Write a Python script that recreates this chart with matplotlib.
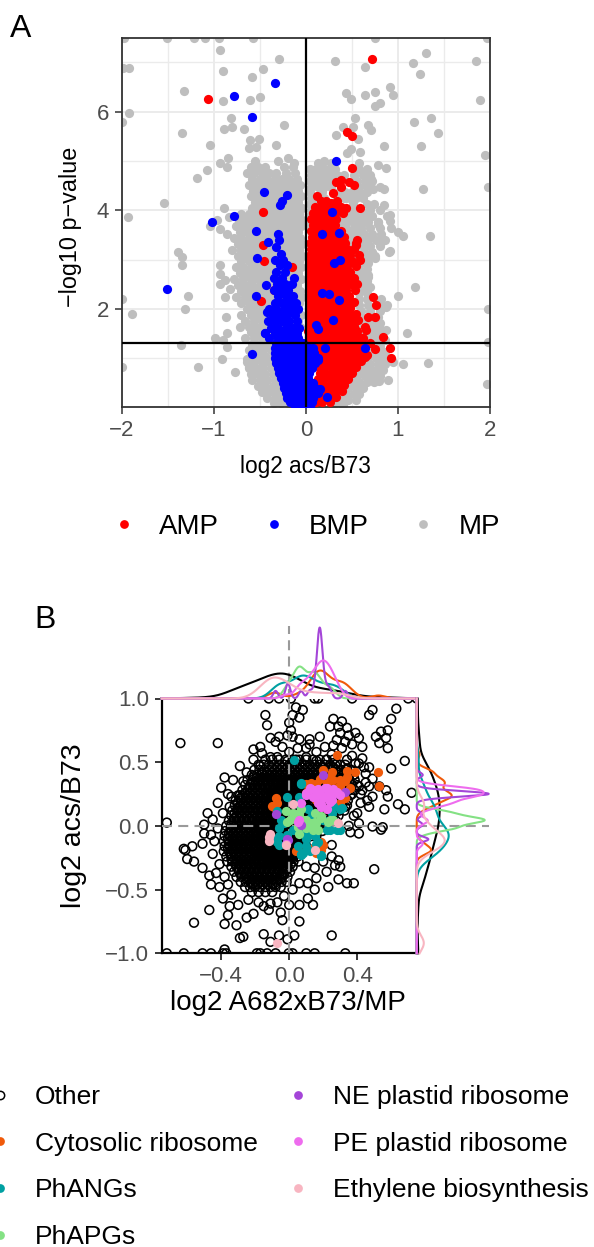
import numpy as np
import matplotlib
matplotlib.use("Agg")
import matplotlib.pyplot as plt
from matplotlib.lines import Line2D
from matplotlib.ticker import FuncFormatter

plt.rcParams['font.family'] = ['Liberation Sans', 'DejaVu Sans']

# ===================== Panel A data (log2 acs/B73 vs -log10 p) =====================
p_threshold = 0.05

# AMP (red) dense cloud, rows: y -> list of x
amp_rows = {
    4.18: [0.16, 0.22, 0.34],
    4.06: [0.10, 0.18, 0.24, 0.38],
    3.94: [0.08, 0.15, 0.22, 0.29, 0.40],
    3.82: [0.06, 0.12, 0.19, 0.26, 0.33],
    3.70: [0.08, 0.14, 0.20, 0.26, 0.32],
    3.58: [0.06, 0.12, 0.18, 0.25, 0.31, 0.38],
    3.46: [0.07, 0.13, 0.20, 0.27, 0.34, 0.41],
    3.34: [0.05, 0.11, 0.17, 0.23, 0.30, 0.36, 0.43, 0.55],
    3.22: [0.06, 0.12, 0.19, 0.25, 0.32, 0.38, 0.45, 0.52],
    3.10: [0.05, 0.10, 0.16, 0.22, 0.28, 0.35, 0.41, 0.48, 0.58],
    2.98: [0.04, 0.10, 0.16, 0.23, 0.29, 0.36, 0.42, 0.50],
    2.86: [0.05, 0.11, 0.17, 0.24, 0.31, 0.38, 0.45, 0.55],
    2.74: [0.04, 0.10, 0.16, 0.22, 0.28, 0.34, 0.41, 0.48],
    2.62: [0.05, 0.11, 0.18, 0.24, 0.30, 0.37, 0.44, 0.52],
    2.50: [0.04, 0.10, 0.16, 0.22, 0.29, 0.35, 0.42, 0.49, 0.56],
    2.38: [0.05, 0.11, 0.17, 0.24, 0.30, 0.37, 0.44],
    2.26: [0.04, 0.10, 0.16, 0.22, 0.28, 0.34, 0.40, 0.47],
    2.14: [0.05, 0.12, 0.18, 0.25, 0.31, 0.38, 0.45, 0.52],
    2.02: [0.04, 0.10, 0.16, 0.22, 0.29, 0.35, 0.41, 0.48],
    1.90: [0.03, 0.09, 0.15, 0.21, 0.27, 0.34, 0.40, 0.47, 0.54],
    1.78: [0.04, 0.10, 0.16, 0.23, 0.30, 0.36, 0.43, 0.50, 0.57],
    1.66: [0.03, 0.08, 0.17, 0.24, 0.31, 0.38, 0.45, 0.52],
    1.54: [0.02, 0.07, 0.15, 0.21, 0.28, 0.35, 0.42, 0.49, 0.56],
    1.42: [0.03, 0.09, 0.16, 0.22, 0.29, 0.36, 0.43, 0.50, 0.58],
    1.30: [0.04, 0.10, 0.17, 0.24, 0.31, 0.38, 0.45, 0.52, 0.60, 0.70],
    1.18: [0.16, 0.22, 0.28, 0.35, 0.41, 0.48, 0.55, 0.62, 0.75],
    1.06: [0.16, 0.23, 0.29, 0.36, 0.43, 0.50, 0.57, 0.66],
    0.94: [0.17, 0.23, 0.30, 0.37, 0.45, 0.52, 0.60],
    0.82: [0.14, 0.20, 0.27, 0.33, 0.40, 0.47, 0.55],
    0.70: [0.15, 0.21, 0.28, 0.35, 0.42, 0.50],
    0.58: [0.13, 0.19, 0.26, 0.32, 0.39, 0.46],
    0.46: [0.14, 0.20, 0.27, 0.34, 0.41],
    0.34: [0.12, 0.18, 0.25, 0.32, 0.39],
    0.22: [0.12, 0.19, 0.26, 0.33],
    0.10: [0.11, 0.18, 0.26],
}
amp_x_extra = [0.73, 0.76, 0.67, 0.75, 0.84, 0.91, 0.92, 0.56, 0.55, 0.59, 0.53, 0.64, 0.65, 0.62, 0.64,
               0.53, 0.44, 0.40, 0.40, 0.72, 0.45, 0.50, 0.50, 0.33, 0.38, 0.47, 0.52, 0.38, 0.29, 0.12,
               0.27, 0.33, 0.44, 0.59, 0.12, 0.25, 0.31, 0.37, -1.06, -0.46, -0.46, -0.45, -0.15, -0.35,
               -0.49, -0.32, -0.21, -0.06, -0.02, 0.02]
amp_y_extra = [2.24, 2.07, 1.84, 1.84, 1.42, 1.20, 1.01, 3.39, 3.29, 3.00, 2.38, 1.64, 1.57, 1.40, 1.03,
               0.96, 1.03, 0.80, 0.49, 7.07, 5.59, 5.50, 4.85, 4.58, 4.62, 4.58, 4.51, 4.47, 4.35, 4.29,
               4.14, 3.97, 4.05, 4.04, 3.71, 3.73, 4.07, 3.53, 6.25, 3.96, 3.29, 2.97, 2.85, 2.38,
               2.15, 1.15, 0.49, 0.10, 0.05, 0.08]

# BMP (blue) dense cloud, rows: y -> list of x
bmp_rows = {
    3.52: [-0.30], 3.40: [-0.29], 3.26: [-0.32], 3.12: [-0.27],
    3.00: [-0.33, -0.25], 2.88: [-0.28, -0.20], 2.75: [-0.32, -0.23],
    2.62: [-0.35, -0.26, -0.13], 2.50: [-0.31, -0.23, -0.15], 2.38: [-0.35, -0.27, -0.19],
    2.25: [-0.30, -0.22, -0.14], 2.12: [-0.34, -0.26, -0.18, -0.11],
    2.00: [-0.40, -0.32, -0.24, -0.16, -0.09], 1.88: [-0.36, -0.28, -0.20, -0.12],
    1.75: [-0.41, -0.33, -0.26, -0.18, -0.10], 1.62: [-0.38, -0.30, -0.22, -0.14, -0.07],
    1.50: [-0.44, -0.34, -0.26, -0.18, -0.10], 1.40: [-0.40, -0.30, -0.22, -0.14, -0.08],
    1.30: [-0.32, -0.26, -0.20, -0.14, -0.08, -0.03],
    1.20: [-0.34, -0.28, -0.22, -0.16, -0.10, -0.05, 0.03, 0.08],
    1.10: [-0.33, -0.27, -0.21, -0.15, -0.09, -0.04, 0.03, 0.09],
    1.00: [-0.33, -0.27, -0.21, -0.15, -0.09, -0.03, 0.03, 0.09, 0.13],
    0.90: [-0.32, -0.26, -0.20, -0.14, -0.08, -0.02, 0.04, 0.10],
    0.80: [-0.30, -0.24, -0.18, -0.12, -0.07, -0.02, 0.03, 0.07],
    0.70: [-0.29, -0.23, -0.17, -0.11, -0.06, -0.01, 0.03],
    0.60: [-0.27, -0.21, -0.15, -0.10, -0.05, 0.02],
    0.50: [-0.25, -0.19, -0.14, -0.09, -0.04, 0.03, 0.08],
    0.40: [-0.24, -0.18, -0.12, -0.07, -0.02, 0.04, 0.10],
    0.30: [-0.22, -0.16, -0.11, -0.06, -0.01, 0.03, 0.13],
    0.20: [-0.20, -0.14, -0.09, -0.04, 0.04, 0.08],
    0.10: [-0.17, -0.11, -0.06, -0.02, 0.03, 0.07],
    0.03: [-0.12, -0.07, -0.03, 0.02, 0.05],
}
bmp_x_extra = [-0.54, -0.41, -0.53, -0.43, -0.54, -0.42, -0.44, -0.58, -1.51, -1.02, -0.78, -0.45,
               -0.21, -0.26, -0.28, -0.33, -0.78, -0.58, 0.33, 0.28, 0.18, 0.36, 0.31, 0.37, 0.18,
               0.25, 0.36, 0.29, 0.11, 0.13, 0.21, 0.64, 0.09, 0.13, 0.05, 0.04, 0.15, 0.23, 0.05, 0.02]
bmp_y_extra = [3.58, 3.36, 3.03, 2.49, 2.26, 1.94, 1.50, 1.08, 2.40, 3.76, 3.88, 4.36,
               4.31, 4.19, 4.10, 6.59, 6.31, 5.89, 4.99, 3.96, 3.51, 3.54, 2.93, 3.00, 2.32,
               2.30, 2.17, 1.77, 1.67, 1.60, 1.21, 1.21, 1.09, 0.96, 0.82, 0.49, 0.38, 0.21, 0.28, 0.11]

# MP (grey) cloud, rows: y -> list of x (left and right of zero)
mp_left_rows = {
    5.00: [-0.55, -0.30],
    4.88: [-0.60, -0.52, -0.44, -0.24, -0.14],
    4.76: [-0.64, -0.56, -0.48, -0.40, -0.32, -0.22, -0.12],
    4.64: [-0.58, -0.50, -0.42, -0.34, -0.26, -0.18, -0.10],
    4.52: [-0.62, -0.54, -0.46, -0.38, -0.30, -0.22, -0.13, -0.06],
    4.40: [-0.57, -0.49, -0.41, -0.33, -0.25, -0.17, -0.09],
    4.28: [-0.60, -0.52, -0.44, -0.36, -0.28, -0.20, -0.12, -0.05],
    4.16: [-0.55, -0.47, -0.39, -0.31, -0.23, -0.15, -0.08],
    4.04: [-0.58, -0.50, -0.42, -0.34, -0.26, -0.18, -0.10, -0.04],
    3.92: [-0.70, -0.62, -0.54, -0.46, -0.38, -0.30, -0.22, -0.14, -0.07],
    3.80: [-0.73, -0.65, -0.57, -0.49, -0.41, -0.33, -0.25, -0.17, -0.09, -0.04],
    3.68: [-0.76, -0.68, -0.60, -0.52, -0.44, -0.36, -0.28, -0.20, -0.12, -0.05],
    3.56: [-0.72, -0.64, -0.56, -0.48, -0.40, -0.32, -0.24, -0.16, -0.08],
    3.44: [-0.78, -0.70, -0.62, -0.54, -0.46, -0.38, -0.30, -0.22, -0.14, -0.06],
    3.32: [-0.74, -0.66, -0.58, -0.50, -0.42, -0.34, -0.26, -0.18, -0.10, -0.04],
    3.20: [-0.80, -0.70, -0.62, -0.54, -0.46, -0.38, -0.30, -0.22, -0.14, -0.07],
    3.08: [-0.74, -0.66, -0.58, -0.50, -0.42, -0.34, -0.26, -0.18, -0.10, -0.04],
    2.96: [-0.70, -0.62, -0.54, -0.46, -0.38, -0.30, -0.22, -0.14, -0.07],
    2.84: [-0.76, -0.68, -0.60, -0.52, -0.44, -0.36, -0.28, -0.20, -0.12, -0.05],
    2.72: [-0.72, -0.64, -0.56, -0.48, -0.40, -0.32, -0.24, -0.16, -0.08],
    2.60: [-0.78, -0.68, -0.60, -0.52, -0.44, -0.36, -0.28, -0.20, -0.12, -0.05],
    2.48: [-0.74, -0.66, -0.58, -0.50, -0.42, -0.34, -0.26, -0.18, -0.10],
    2.36: [-0.70, -0.62, -0.54, -0.46, -0.38, -0.30, -0.22, -0.14, -0.06],
    2.24: [-0.76, -0.66, -0.58, -0.50, -0.42, -0.34, -0.26, -0.18, -0.10, -0.04],
    2.12: [-0.70, -0.62, -0.54, -0.46, -0.38, -0.30, -0.22, -0.14, -0.07],
    2.00: [-0.64, -0.56, -0.48, -0.40, -0.32, -0.24, -0.16, -0.08],
    1.88: [-0.70, -0.60, -0.52, -0.44, -0.36, -0.28, -0.20, -0.12, -0.05],
    1.76: [-0.66, -0.56, -0.48, -0.40, -0.32, -0.24, -0.16, -0.08],
    1.64: [-0.72, -0.62, -0.54, -0.46, -0.38, -0.30, -0.22, -0.14, -0.06],
    1.52: [-0.60, -0.52, -0.44, -0.36, -0.28, -0.20, -0.12],
    1.40: [-0.66, -0.56, -0.48, -0.40, -0.32, -0.24, -0.16, -0.08],
    1.28: [-0.58, -0.50, -0.42, -0.34, -0.26, -0.18, -0.10],
    1.16: [-0.62, -0.54, -0.46, -0.38, -0.30, -0.22, -0.14],
    1.04: [-0.60, -0.52, -0.44, -0.36, -0.28, -0.20],
    0.92: [-0.64, -0.56, -0.48, -0.40, -0.32, -0.24],
    0.80: [-0.62, -0.54, -0.46, -0.38, -0.30, -0.22],
    0.68: [-0.60, -0.52, -0.44, -0.36, -0.28, -0.20],
    0.56: [-0.58, -0.50, -0.42, -0.34, -0.26, -0.20],
    0.44: [-0.52, -0.44, -0.36, -0.28, -0.20],
    0.32: [-0.48, -0.40, -0.32, -0.24, -0.17],
    0.20: [-0.42, -0.34, -0.26, -0.19],
    0.08: [-0.35, -0.27, -0.19],
}
mp_right_rows = {
    4.96: [0.13, 0.27],
    4.84: [0.04, 0.11, 0.18, 0.25, 0.32, 0.58, 0.66],
    4.72: [0.06, 0.13, 0.20, 0.27, 0.34, 0.41, 0.52, 0.62, 0.70],
    4.60: [0.04, 0.11, 0.18, 0.25, 0.56, 0.64, 0.72],
    4.48: [0.06, 0.13, 0.20, 0.27, 0.58, 0.66, 0.80],
    4.36: [0.04, 0.18, 0.36, 0.43, 0.50, 0.58, 0.66],
    4.24: [0.06, 0.20, 0.34, 0.41, 0.48, 0.55, 0.62],
    4.12: [0.04, 0.11, 0.18, 0.34, 0.51, 0.66, 0.74],
    4.00: [0.06, 0.13, 0.20, 0.27, 0.38, 0.50, 0.70, 0.80],
    3.88: [0.04, 0.11, 0.18, 0.40, 0.47, 0.54, 0.62, 0.72, 0.88],
    3.76: [0.05, 0.38, 0.45, 0.52, 0.60, 0.68, 0.78],
    3.64: [0.04, 0.44, 0.52, 0.60, 0.70, 0.80, 0.92],
    3.52: [0.47, 0.55, 0.63, 0.72, 0.82],
    3.40: [0.49, 0.60, 0.68, 0.76, 0.86],
    3.28: [0.50, 0.62, 0.70, 0.80],
    3.16: [0.55, 0.63, 0.72, 0.90],
    3.04: [0.57, 0.66, 0.75],
    2.92: [0.60, 0.68],
    2.80: [0.58, 0.66],
    2.68: [0.54, 0.62, 0.68],
    2.56: [0.58, 0.66],
    2.44: [0.54, 0.62, 0.70],
    2.32: [0.58, 0.66],
    2.20: [0.58, 0.66, 0.82],
    2.08: [0.58, 0.68, 0.82, 0.88],
    1.96: [0.60, 0.70, 0.80],
    1.84: [0.60, 0.78],
    1.72: [0.62, 0.70, 0.80],
    1.60: [0.60, 0.72, 0.80],
    1.48: [0.66, 0.74, 0.82],
    1.36: [0.68, 0.76, 0.86],
    1.24: [0.66, 0.72, 0.80],
    1.12: [0.70, 0.78, 0.86],
    1.00: [0.68, 0.76, 0.84],
    0.88: [0.62, 0.70, 0.78, 0.86],
    0.76: [0.60, 0.68, 0.76, 0.84],
    0.64: [0.56, 0.64, 0.72, 0.80],
    0.52: [0.50, 0.58, 0.66, 0.74],
    0.40: [0.46, 0.54, 0.62],
    0.28: [0.44, 0.52, 0.58],
    0.16: [0.38, 0.46, 0.54],
    0.05: [0.30, 0.40],
}
mp_x_extra = [-1.98, -1.51, -1.21, -1.09, -0.94, -0.57, -0.93, -0.29, -1.99, -1.92, -0.90, -0.46, -0.59,
              -1.32, -0.90, -0.61, -0.50, -1.92, -2.00, -0.81, -0.89, -0.80, -0.67, -0.24, -1.35, -1.04,
              -0.61, -0.51, -0.62, -0.54, -0.32, -0.85, -0.93, -0.86, -1.07, -1.18, -0.19, -0.13, -1.54,
              -1.93, -0.97, -0.89, -0.84, -0.64, -0.71,
              0.75, 1.97, 0.32, 0.64, 1.30, 1.16, 1.24, 1.85, 1.89, 0.44, 0.49, 0.64, 0.75, 0.91, 0.95,
              0.75, 0.81, 0.53, 0.40, 0.51, 0.67, 0.71, 0.33, 0.57, 0.85, 0.45, 0.49, 0.59, 1.18, 1.36,
              1.43, 1.25, 1.95, 0.20, 0.19, 0.29, 0.58, 0.78, 0.87, 0.71, 0.65, 0.73, 0.85, 1.27, 1.98,
              0.56, 0.64, 0.44, 0.20, 0.24, 0.16, 0.85, 0.91, 0.78, 0.67, 0.53, 0.05, 0.13,
              -1.04, -0.93, -0.86, -1.39, -1.35, -1.34, -0.93, -0.93, -0.93, -0.88, -0.82, -0.88, -2.00,
              -1.89, -1.28, -1.31, -0.87, -0.86, -0.99, -0.90, -1.36, -0.86, -0.91, -1.17, -2.00, -0.77,
              -0.62, -0.64, -0.55,
              0.65, 0.78, 0.91, 1.00, 1.06, 1.35, 0.82, 0.91, 0.75, 0.67, 1.00, 1.19, 0.87, 1.98, 0.76,
              0.87, 1.10, 0.84, 0.95, 1.05, 1.33, 0.79, 0.89, 1.97, 1.98, 0.58, 0.44, 0.42, 0.35, 0.60,
              0.67, 0.71]
mp_y_extra = [7.50, 7.50, 7.50, 7.50, 7.50, 7.50, 7.25, 7.07, 6.88, 6.88, 6.82, 6.87, 6.70,
              6.41, 6.21, 6.23, 6.29, 5.97, 5.79, 5.88, 5.64, 5.69, 5.65, 5.72, 5.57, 5.33,
              5.42, 5.44, 5.26, 5.28, 5.33, 5.05, 4.95, 4.87, 4.82, 4.66, 5.05, 4.95, 4.14,
              3.87, 3.80, 4.04, 3.87, 3.84, 3.78,
              7.50, 7.50, 7.03, 6.91, 7.18, 6.99, 6.76, 7.03, 6.24, 6.38, 6.25, 6.34, 6.39, 6.51, 6.34,
              6.12, 6.17, 5.87, 5.69, 5.69, 5.72, 5.62, 5.53, 5.45, 5.30, 5.17, 5.25, 5.18, 5.79, 5.87,
              5.57, 5.30, 5.13, 4.99, 4.86, 4.88, 4.95, 4.91, 4.86, 4.64, 4.58, 4.43, 4.44, 4.44, 4.47,
              4.31, 4.34, 4.24, 4.64, 4.51, 4.04, 4.10, 3.90, 3.77, 3.97, 3.80, 3.77, 3.90,
              3.69, 3.62, 3.52, 3.15, 3.05, 2.88, 2.88, 2.71, 2.51, 2.58, 2.41, 2.23, 2.19,
              1.89, 2.27, 2.00, 1.84, 1.51, 1.40, 1.36, 1.26, 1.23, 0.99, 0.82, 0.82, 0.72,
              0.82, 0.99, 1.13,
              3.76, 3.73, 3.79, 3.56, 3.47, 3.47, 3.36, 3.17, 3.08, 2.65, 2.27, 2.44, 2.04, 2.00, 1.67,
              1.57, 1.51, 1.09, 0.92, 0.89, 0.90, 0.54, 0.55, 0.47, 1.33, 0.49, 0.28, 0.21, 0.11, 0.69,
              0.82, 1.23]

# ===================== Panel B data (log2 A682xB73/MP vs log2 acs/B73) =====================
# "Other": dense cloud rows (y -> x list), interleaved rows, dense core rows, and scattered points
other_rows = {
    0.52: [-0.14, -0.10, -0.06, -0.02, 0.02, 0.06, 0.10, 0.14, 0.18, 0.22, 0.26],
    0.48: [-0.18, -0.15, -0.12, -0.09, -0.06, -0.03, 0.00, 0.03, 0.06, 0.09, 0.12, 0.15, 0.18, 0.21,
           0.24, 0.27, 0.30, 0.33],
    0.44: [-0.205, -0.175, -0.145, -0.115, -0.085, -0.055, -0.025, 0.005, 0.035, 0.065, 0.095, 0.125,
           0.155, 0.185, 0.215, 0.245, 0.275, 0.305, 0.335, 0.365],
    0.40: [-0.22, -0.19, -0.16, -0.13, -0.10, -0.07, -0.04, -0.01, 0.02, 0.05, 0.08, 0.11, 0.14, 0.17,
           0.20, 0.23, 0.26, 0.29, 0.32, 0.35, 0.38],
    0.36: [-0.245, -0.215, -0.185, -0.155, -0.125, -0.095, -0.065, -0.035, -0.005, 0.025, 0.055, 0.085,
           0.115, 0.145, 0.175, 0.205, 0.235, 0.265, 0.295, 0.325, 0.355, 0.385],
    0.32: [-0.26, -0.23, -0.20, -0.17, -0.14, -0.11, -0.08, -0.05, -0.02, 0.01, 0.04, 0.07, 0.10, 0.13,
           0.16, 0.19, 0.22, 0.25, 0.28, 0.31, 0.34, 0.37, 0.40],
    0.28: [-0.275, -0.245, -0.215, -0.185, -0.155, -0.125, -0.095, -0.065, -0.035, -0.005, 0.025, 0.055,
           0.085, 0.115, 0.145, 0.175, 0.205, 0.235, 0.265, 0.295, 0.325, 0.355, 0.385],
    0.24: [-0.30, -0.27, -0.24, -0.21, -0.18, -0.15, -0.12, -0.09, -0.06, -0.03, 0.00, 0.03, 0.06, 0.09,
           0.12, 0.15, 0.18, 0.21, 0.24, 0.27, 0.30, 0.33, 0.36],
    0.20: [-0.315, -0.285, -0.255, -0.225, -0.195, -0.165, -0.135, -0.105, -0.075, -0.045, -0.015, 0.015,
           0.045, 0.075, 0.105, 0.135, 0.165, 0.195, 0.225, 0.255, 0.285, 0.315, 0.345],
    0.16: [-0.32, -0.29, -0.26, -0.23, -0.20, -0.17, -0.14, -0.11, -0.08, -0.05, -0.02, 0.01, 0.04, 0.07,
           0.10, 0.13, 0.16, 0.19, 0.22, 0.25, 0.28, 0.31, 0.34],
    0.12: [-0.335, -0.305, -0.275, -0.245, -0.215, -0.185, -0.155, -0.125, -0.095, -0.065, -0.035, -0.005,
           0.025, 0.055, 0.085, 0.115, 0.145, 0.175, 0.205, 0.235, 0.265, 0.295, 0.325],
    0.08: [-0.34, -0.31, -0.28, -0.25, -0.22, -0.19, -0.16, -0.13, -0.10, -0.07, -0.04, -0.01, 0.02, 0.05,
           0.08, 0.11, 0.14, 0.17, 0.20, 0.23, 0.26, 0.29],
    0.04: [-0.355, -0.325, -0.295, -0.265, -0.235, -0.205, -0.175, -0.145, -0.115, -0.085, -0.055, -0.025,
           0.005, 0.035, 0.065, 0.095, 0.125, 0.155, 0.185, 0.215, 0.245, 0.275],
    0.00: [-0.37, -0.34, -0.31, -0.28, -0.25, -0.22, -0.19, -0.16, -0.13, -0.10, -0.07, -0.04, -0.01, 0.02,
           0.05, 0.08, 0.11, 0.14, 0.17, 0.20, 0.23],
    -0.04: [-0.375, -0.345, -0.315, -0.285, -0.255, -0.225, -0.195, -0.165, -0.135, -0.105, -0.075, -0.045,
            -0.015, 0.015, 0.045, 0.075, 0.105, 0.135, 0.165, 0.195],
    -0.08: [-0.38, -0.35, -0.32, -0.29, -0.26, -0.23, -0.20, -0.17, -0.14, -0.11, -0.08, -0.05, -0.02, 0.01,
            0.04, 0.07, 0.10, 0.13, 0.16],
    -0.12: [-0.385, -0.355, -0.325, -0.295, -0.265, -0.235, -0.205, -0.175, -0.145, -0.115, -0.085, -0.055,
            -0.025, 0.005, 0.035, 0.065, 0.095, 0.125],
    -0.16: [-0.38, -0.35, -0.32, -0.29, -0.26, -0.23, -0.20, -0.17, -0.14, -0.11, -0.08, -0.05, -0.02, 0.01,
            0.04, 0.07, 0.10],
    -0.20: [-0.385, -0.355, -0.325, -0.295, -0.265, -0.235, -0.205, -0.175, -0.145, -0.115, -0.085, -0.055,
            -0.025, 0.005, 0.035, 0.065],
    -0.24: [-0.37, -0.34, -0.31, -0.28, -0.25, -0.22, -0.19, -0.16, -0.13, -0.10, -0.07, -0.04, -0.01, 0.02,
            0.05],
    -0.28: [-0.365, -0.335, -0.305, -0.275, -0.245, -0.215, -0.185, -0.155, -0.125, -0.095, -0.065, -0.035,
            -0.005, 0.025, 0.055],
    -0.32: [-0.34, -0.31, -0.28, -0.25, -0.22, -0.19, -0.16, -0.13, -0.10, -0.07, -0.04, -0.01, 0.02],
    -0.36: [-0.325, -0.295, -0.265, -0.235, -0.205, -0.175, -0.145, -0.115, -0.085, -0.055, -0.025, 0.005],
    -0.40: [-0.31, -0.28, -0.25, -0.22, -0.19, -0.16, -0.13, -0.10, -0.07, -0.04, -0.01],
    -0.44: [-0.285, -0.255, -0.225, -0.195, -0.165, -0.135, -0.105, -0.075, -0.045, -0.015],
    -0.48: [-0.26, -0.23, -0.20, -0.17, -0.14, -0.11, -0.08, -0.05],
    -0.52: [-0.22, -0.18, -0.14, -0.10],
}
other_rows_mid = {
    0.46: [-0.10, -0.07, -0.04, -0.01, 0.02, 0.05, 0.08, 0.11, 0.14, 0.17, 0.20, 0.23, 0.26],
    0.42: [-0.16, -0.13, -0.10, -0.07, -0.04, -0.01, 0.02, 0.05, 0.08, 0.11, 0.14, 0.17, 0.20, 0.23, 0.26,
           0.29, 0.32],
    0.38: [-0.19, -0.16, -0.13, -0.10, -0.07, -0.04, -0.01, 0.02, 0.05, 0.08, 0.11, 0.14, 0.17, 0.20, 0.23,
           0.26, 0.29, 0.32, 0.35],
    0.34: [-0.215, -0.185, -0.155, -0.125, -0.095, -0.065, -0.035, -0.005, 0.025, 0.055, 0.085, 0.115,
           0.145, 0.175, 0.205, 0.235, 0.265, 0.295, 0.325, 0.355],
    0.30: [-0.235, -0.205, -0.175, -0.145, -0.115, -0.085, -0.055, -0.025, 0.005, 0.035, 0.065, 0.095,
           0.125, 0.155, 0.185, 0.215, 0.245, 0.275, 0.305, 0.335],
    0.26: [-0.26, -0.23, -0.20, -0.17, -0.14, -0.11, -0.08, -0.05, -0.02, 0.01, 0.04, 0.07, 0.10, 0.13,
           0.16, 0.19, 0.22, 0.25, 0.28, 0.31],
    0.22: [-0.285, -0.255, -0.225, -0.195, -0.165, -0.135, -0.105, -0.075, -0.045, -0.015, 0.015, 0.045,
           0.075, 0.105, 0.135, 0.165, 0.195, 0.225, 0.255, 0.285],
    0.18: [-0.30, -0.27, -0.24, -0.21, -0.18, -0.15, -0.12, -0.09, -0.06, -0.03, 0.00, 0.03, 0.06, 0.09,
           0.12, 0.15, 0.18, 0.21, 0.24, 0.27],
    0.14: [-0.305, -0.275, -0.245, -0.215, -0.185, -0.155, -0.125, -0.095, -0.065, -0.035, -0.005, 0.025,
           0.055, 0.085, 0.115, 0.145, 0.175, 0.205, 0.235, 0.265],
    0.10: [-0.32, -0.29, -0.26, -0.23, -0.20, -0.17, -0.14, -0.11, -0.08, -0.05, -0.02, 0.01, 0.04, 0.07,
           0.10, 0.13, 0.16, 0.19, 0.22, 0.25],
    0.06: [-0.325, -0.295, -0.265, -0.235, -0.205, -0.175, -0.145, -0.115, -0.085, -0.055, -0.025, 0.005,
           0.035, 0.065, 0.095, 0.125, 0.155, 0.185, 0.215],
    0.02: [-0.34, -0.31, -0.28, -0.25, -0.22, -0.19, -0.16, -0.13, -0.10, -0.07, -0.04, -0.01, 0.02, 0.05,
           0.08, 0.11, 0.14, 0.17, 0.20],
    -0.02: [-0.345, -0.315, -0.285, -0.255, -0.225, -0.195, -0.165, -0.135, -0.105, -0.075, -0.045, -0.015,
            0.015, 0.045, 0.075, 0.105, 0.135, 0.165],
    -0.06: [-0.355, -0.325, -0.295, -0.265, -0.235, -0.205, -0.175, -0.145, -0.115, -0.085, -0.055, -0.025,
            0.005, 0.035, 0.065, 0.095, 0.125],
    -0.10: [-0.36, -0.33, -0.30, -0.27, -0.24, -0.21, -0.18, -0.15, -0.12, -0.09, -0.06, -0.03, 0.00, 0.03,
            0.06, 0.09],
    -0.14: [-0.355, -0.325, -0.295, -0.265, -0.235, -0.205, -0.175, -0.145, -0.115, -0.085, -0.055, -0.025,
            0.005, 0.035, 0.065],
    -0.18: [-0.36, -0.33, -0.30, -0.27, -0.24, -0.21, -0.18, -0.15, -0.12, -0.09, -0.06, -0.03, 0.00, 0.03,
            0.05],
    -0.22: [-0.345, -0.315, -0.285, -0.255, -0.225, -0.195, -0.165, -0.135, -0.105, -0.075, -0.045, -0.015,
            0.015, 0.04],
    -0.26: [-0.34, -0.31, -0.28, -0.25, -0.22, -0.19, -0.16, -0.13, -0.10, -0.07, -0.04, -0.01, 0.02],
    -0.30: [-0.315, -0.285, -0.255, -0.225, -0.195, -0.165, -0.135, -0.105, -0.075, -0.045, -0.015, 0.01],
    -0.34: [-0.30, -0.27, -0.24, -0.21, -0.18, -0.15, -0.12, -0.09, -0.06, -0.03, -0.01],
    -0.38: [-0.285, -0.255, -0.225, -0.195, -0.165, -0.135, -0.105, -0.075, -0.045, -0.03],
    -0.42: [-0.25, -0.22, -0.19, -0.16, -0.13, -0.10, -0.07, -0.05],
    -0.46: [-0.22, -0.19, -0.16, -0.13, -0.10, -0.08],
}
other_rows_core = {
    0.31: [-0.11, -0.08, -0.05, -0.02, 0.01, 0.04, 0.07, 0.10, 0.13],
    0.25: [-0.13, -0.10, -0.07, -0.04, -0.01, 0.02, 0.05, 0.08, 0.11],
    0.19: [-0.15, -0.12, -0.09, -0.06, -0.03, 0.00, 0.03, 0.06, 0.09],
    0.13: [-0.16, -0.13, -0.10, -0.07, -0.04, -0.01, 0.02, 0.05, 0.08],
    0.07: [-0.17, -0.14, -0.11, -0.08, -0.05, -0.02, 0.01, 0.04, 0.07],
    0.01: [-0.18, -0.15, -0.12, -0.09, -0.06, -0.03, 0.00, 0.03, 0.06],
    -0.05: [-0.19, -0.16, -0.13, -0.10, -0.07, -0.04, -0.01, 0.02, 0.05],
    -0.11: [-0.19, -0.16, -0.13, -0.10, -0.07, -0.04, -0.01, 0.02],
    -0.17: [-0.19, -0.16, -0.13, -0.10, -0.07, -0.04, -0.01],
    -0.23: [-0.18, -0.15, -0.12, -0.09, -0.06, -0.03],
    -0.29: [-0.16, -0.13, -0.10, -0.07, -0.04],
}
other_rows_core2 = {
    0.28: [-0.10, -0.07, -0.04, -0.01, 0.02, 0.05, 0.08, 0.11],
    0.22: [-0.11, -0.08, -0.05, -0.02, 0.01, 0.04, 0.07, 0.10],
    0.16: [-0.12, -0.09, -0.06, -0.03, 0.00, 0.03, 0.06, 0.09],
    0.10: [-0.13, -0.10, -0.07, -0.04, -0.01, 0.02, 0.05, 0.08],
    0.04: [-0.13, -0.10, -0.07, -0.04, -0.01, 0.02, 0.05, 0.08],
    -0.02: [-0.14, -0.11, -0.08, -0.05, -0.02, 0.01, 0.04, 0.07],
    -0.08: [-0.14, -0.11, -0.08, -0.05, -0.02, 0.01, 0.04],
    -0.14: [-0.14, -0.11, -0.08, -0.05, -0.02, 0.01, 0.04],
    -0.20: [-0.13, -0.10, -0.07, -0.04, -0.01, 0.02],
    -0.26: [-0.12, -0.09, -0.06, -0.03, 0.00],
}
other_rows_core3 = {
    0.20: [-0.06, -0.03, 0.00, 0.03, 0.06],
    0.17: [-0.05, -0.02, 0.01, 0.04],
    0.14: [-0.07, -0.04, -0.01, 0.02, 0.05],
    0.11: [-0.06, -0.03, 0.00, 0.03],
    0.08: [-0.08, -0.05, -0.02, 0.01, 0.04],
    0.05: [-0.065, -0.035, -0.005, 0.025],
    0.03: [-0.08, -0.05, -0.02, 0.01, 0.04],
    -0.01: [-0.065, -0.035, -0.005, 0.025],
    -0.03: [-0.08, -0.05, -0.02, 0.01, 0.04],
    -0.07: [-0.06, -0.03, 0.00],
    -0.09: [-0.08, -0.05, -0.02, 0.01],
    -0.15: [-0.07, -0.04, -0.01, 0.02],
}
other_x_extra = [-0.24, -0.12, -0.06, 0.01, 0.15, 0.17, 0.37, 0.70, 0.75, 0.04, 0.08, 0.02, 0.06, -0.14,
                 -0.13, 0.00, 0.01, -0.01, 0.02, 0.49, 0.47, 0.63, 0.60, 0.26, 0.31, 0.24, 0.29, 0.34,
                 0.35, 0.30, 0.28, 0.33, 0.39, 0.41, 0.37, 0.43, 0.54, 0.58, 0.51, 0.57, 0.53, 0.58, 0.68,
                 0.60, 0.47, 0.43, 0.41, -0.64, -0.42, -0.29, -0.38, -0.21, -0.16, -0.11, -0.11, -0.06,
                 -0.08, 0.06, 0.12, 0.18, 0.05, 0.10, 0.16, 0.21, 0.26, 0.31, -0.21, -0.17, -0.25, -0.21,
                 -0.17, -0.27, -0.07, -0.01, 0.04, 0.10, 0.16, 0.22, 0.28, 0.34, 0.39, 0.44, 0.34, 0.38,
                 0.45, 0.49,
                 -0.72, -0.48, -0.39, -0.34, -0.29, -0.35, -0.30, -0.50, -0.50, -0.46, -0.51, -0.61, -0.57,
                 -0.60, -0.56, -0.51, -0.47, -0.43, -0.46, -0.41, -0.36, -0.39, -0.34, -0.30, -0.35, -0.47,
                 -0.36, -0.31, -0.38, -0.56, -0.25, -0.21, -0.15, -0.11, -0.07, -0.29, -0.15, -0.11, -0.06,
                 -0.04, -0.01, 0.03, 0.06, 0.14, 0.06, 0.11, 0.15, 0.11, 0.23, 0.29, 0.34, 0.38, 0.16,
                 0.22, 0.27, 0.30, 0.15, 0.25, 0.29, 0.50, 0.25, 0.41, 0.49, 0.54, 0.41, 0.36, 0.40, 0.47,
                 0.42, 0.33, 0.37, 0.42, 0.49, 0.58, 0.56, 0.64, 0.68, 0.57, 0.47, 0.41, 0.72, 0.53,
                 -0.72, -0.62, -0.51, -0.46, -0.39, -0.37, -0.19, -0.17, -0.13, -0.08, -0.003, 0.02, 0.10,
                 0.15, 0.33, -0.38, -0.62, -0.27, 0.55,
                 -0.17, -0.04, 0.00, 0.12, 0.25, 0.37, 0.45, 0.43, 0.46, -0.40, -0.33, -0.36, -0.42,
                 -0.45, -0.42, -0.44, -0.45, -0.41, -0.38, 0.10, 0.06, 0.02, -0.03, 0.20, 0.25, 0.35,
                 0.38, -0.24, -0.18, -0.12, -0.05, 0.00]
other_y_extra = [1.00, 1.00, 1.00, 1.00, 1.00, 1.00, 1.00, 1.00, 1.00, 0.93, 0.91, 0.87, 0.85, 0.87,
                 0.79, 0.81, 0.75, 0.71, 0.70, 0.91, 0.87, 0.92, 0.84, 0.84, 0.82, 0.78, 0.78, 0.77,
                 0.71, 0.73, 0.675, 0.66, 0.73, 0.69, 0.64, 0.62, 0.74, 0.75, 0.70, 0.69, 0.65, 0.61, 0.51,
                 0.45, 0.46, 0.53, 0.49, 0.65, 0.65, 0.47, 0.38, 0.60, 0.57, 0.54, 0.69, 0.70,
                 0.66, 0.68, 0.68, 0.70, 0.61, 0.61, 0.58, 0.62, 0.63, 0.61, 0.52, 0.47, 0.42, 0.39,
                 0.36, 0.35, 0.54, 0.51, 0.52, 0.54, 0.51, 0.52, 0.49, 0.52, 0.49, 0.46, 0.45, 0.40,
                 0.41, 0.37,
                 0.026, 0.10, 0.10, 0.23, 0.24, 0.15, 0.13, 0.01, -0.06, -0.07, -0.14, -0.19, -0.16,
                 -0.26, -0.28, -0.33, -0.39, -0.37, -0.46, -0.48, -0.46, -0.57, -0.54, -0.62, -0.63, -0.66,
                 -0.70, -0.78, -0.77, -0.76, -0.72, -0.69, -0.63, -0.61, -0.60, -0.88, -0.85, -0.91, -0.86,
                 -0.74, -0.89, -0.86, -0.75, -0.62, -0.62, -0.57, -0.50, -0.45, -0.48, -0.42, -0.45, -0.45, -0.41,
                 -0.36, -0.31, -0.32, -0.33, -0.24, -0.27, -0.34, -0.86, -0.06, -0.005, -0.03, 0.02, -0.05, 0.10, 0.15,
                 0.18, 0.15, 0.25, 0.25, 0.23, 0.23, 0.13, 0.17, 0.13, 0.28, 0.31, 0.31, 0.26, 0.31,
                 -1.00, -1.00, -1.00, -1.00, -1.00, -1.00, -1.00, -1.00, -1.00, -1.00, -1.00, -1.00, -1.00,
                 -1.00, -1.00, -0.97, -0.18, -0.87, -0.01,
                 0.62, 0.62, 0.58, 0.64, 0.56, 0.55, 0.34, 0.28, 0.20, 0.30, 0.36, 0.25, 0.18,
                 0.05, -0.02, -0.12, -0.22, -0.30, -0.40, -0.32, -0.45, -0.50, -0.55, -0.28, -0.15, 0.00,
                 0.08, -0.58, -0.60, -0.66, -0.68, -0.62]

# coloured gene sets (several lie hidden under the PE plastid ribosome cluster)
cyto_x = [0.28, 0.20, 0.25, 0.34, 0.39, 0.52, 0.53, 0.10, 0.16, 0.30, 0.34, 0.26, 0.33, 0.22, 0.13,
          -0.10, -0.07, -0.08, -0.09, 0.05, 0.19, 0.13, 0.16, 0.04, 0.20, 0.19, 0.22, 0.26, 0.30, 0.32,
          0.30, 0.33, 0.10, 0.13, 0.36, 0.28, 0.24, 0.18,
          0.16, 0.18, 0.20, 0.14, 0.22, 0.17, 0.19, 0.15, 0.21, 0.16]
cyto_y = [0.56, 0.44, 0.42, 0.43, 0.42, 0.42, 0.31, 0.33, 0.33, 0.36, 0.38, 0.36, 0.35, 0.34, 0.34,
          0.16, 0.18, 0.22, 0.15, -0.19, -0.13, -0.18, -0.21, -0.20, -0.15, -0.19, 0.13, 0.18, 0.18, 0.23,
          0.31, 0.22, 0.26, 0.26, 0.30, 0.30, 0.38, 0.37,
          0.24, 0.22, 0.25, 0.27, 0.24, 0.26, 0.21, 0.23, 0.27, 0.20]
phang_x = [0.03, 0.07, 0.07, 0.06, -0.07, -0.05, -0.06, -0.07, 0.08, 0.07, 0.10, 0.17, 0.19, 0.24, 0.28,
           0.30, 0.26, 0.02, 0.08, 0.13, -0.01, 0.05, 0.11, -0.03, -0.06, -0.06, -0.08, -0.015, 0.05,
           0.07, 0.12, 0.16, 0.19, 0.22, 0.30, 0.25, 0.31, 0.13, 0.20, 0.26, 0.10, 0.15]
phang_y = [0.52, 0.33, 0.34, 0.23, 0.12, 0.05, -0.08, -0.13, -0.21, -0.23, -0.16, -0.13, -0.23, -0.03,
           -0.03, 0.13, 0.16, -0.03, -0.05, -0.06, 0.23, 0.17, 0.13, 0.02, -0.02, -0.15, -0.10, -0.07,
           -0.16, -0.22, -0.20, -0.14, -0.24, -0.03, -0.03, 0.10, 0.14, 0.07, 0.05, 0.27, -0.10, -0.08]
phapg_x = [0.02, 0.06, 0.10, 0.15, 0.19, 0.24, -0.01, 0.05, 0.12, 0.17, 0.23, 0.26, 0.15, -0.02, 0.07,
           0.04, 0.08, 0.13, 0.14, 0.10, 0.05, 0.06, 0.005, 0.19, 0.16, 0.06]
phapg_y = [0.10, 0.08, 0.05, 0.03, 0.08, 0.05, 0.03, 0.00, -0.01, -0.03, 0.03, 0.05, 0.10, 0.12, 0.13,
           0.06, 0.05, 0.02, -0.03, -0.02, -0.01, 0.10, 0.05, 0.06, 0.02, -0.06]
ne_x = [0.20, 0.33, -0.08, -0.01, 0.07, -0.005, 0.18, 0.18, 0.17, 0.19, 0.12, 0.24, 0.22, 0.15,
        0.18, 0.17, 0.19, 0.18, 0.18, 0.17]
ne_y = [0.40, 0.27, 0.09, -0.10, 0.01, -0.11, 0.25, 0.25, 0.26, 0.24, 0.26, 0.22, 0.28, 0.24,
        0.25, 0.25, 0.26, 0.24, 0.26, 0.24]
pe_x = [0.13, 0.17, 0.22, 0.26, 0.15, 0.21, 0.26, 0.10, 0.19, 0.24, 0.07, 0.12, 0.16, 0.21, 0.14, 0.20,
        0.25, 0.19, 0.22, 0.17, 0.10, 0.30, 0.05, 0.06, -0.02, 0.18, 0.23, 0.28]
pe_y = [0.29, 0.29, 0.30, 0.29, 0.23, 0.23, 0.25, 0.26, 0.17, 0.19, 0.18, 0.30, 0.28, 0.30, 0.23, 0.22,
        0.20, 0.15, 0.13, 0.18, 0.24, 0.24, 0.03, 0.05, -0.14, 0.26, 0.26, 0.27]
eth_x = [0.02, -0.11, -0.12, -0.02, 0.15, 0.29, -0.07, -0.12]
eth_y = [0.17, -0.06, -0.12, -0.15, -0.19, 0.02, -0.92, -0.09]

group_names = ["Other", "Cytosolic ribosome", "PhANGs", "PhAPGs",
               "NE plastid ribosome", "PE plastid ribosome", "Ethylene biosynthesis"]
group_colors = ["#000000", "#F05A0A", "#00A0A2", "#84E184", "#A445D8", "#EE6CEE", "#F8B5C1"]
# marginal density curves: peak heights (px) and smoothing bandwidths
marg_top_peak = [25, 28, 23, 32, 71, 38, 21]
marg_right_peak = [23, 35, 32, 68, 72, 67, 28]
marg_top_bw = [0.06, 0.04, 0.05, 0.03, 0.014, 0.03, 0.07]
marg_right_bw = [0.07, 0.03, 0.07, 0.022, 0.018, 0.025, 0.06]

# ===================== helpers =====================
def expand(rows):
    xs, ys = [], []
    for yv, xl in rows.items():
        xs.extend(xl)
        ys.extend([yv] * len(xl))
    return xs, ys

def kde(v, grid, bw):
    v = np.asarray(v, float)
    z = (grid[:, None] - v[None, :]) / bw
    return np.exp(-0.5 * z ** 2).sum(1) / (len(v) * bw * np.sqrt(2 * np.pi))

W, H = 594, 1247
def rect(l, t, r, b):
    return [l / W, 1 - b / H, (r - l) / W, (b - t) / H]
def fx(px):
    return px / W
def fy(py):
    return 1 - py / H

fig = plt.figure(figsize=(W / 100, H / 100), dpi=100)
tick_color = "#4D4D4D"
TICK_FS = 16

# ===================== Panel A =====================
axA = fig.add_axes(rect(121.7, 37.7, 490, 407.4))
ax_, ay_ = expand(amp_rows)
bx_, by_ = expand(bmp_rows)
mlx, mly = expand(mp_left_rows)
mrx, mry = expand(mp_right_rows)
mp_x = mlx + mrx + mp_x_extra
mp_y = mly + mry + mp_y_extra
amp_x = ax_ + amp_x_extra
amp_y = ay_ + amp_y_extra
bmp_x = bx_ + bmp_x_extra
bmp_y = by_ + bmp_y_extra

dot_s = 44
axA.scatter(mp_x, mp_y, s=dot_s, c="#BEBEBE", linewidths=0, zorder=2)
axA.scatter(amp_x, amp_y, s=dot_s, c="#FF0000", linewidths=0, zorder=3)
axA.scatter(bmp_x, bmp_y, s=dot_s, c="#0000FF", linewidths=0, zorder=4)
axA.axvline(0, color="black", lw=1.6, zorder=5)
axA.axhline(-np.log10(p_threshold), color="black", lw=1.6, zorder=5)
axA.set_xlim(-2, 2)
axA.set_ylim(0, 7.5)
axA.set_xticks([-2, -1, 0, 1, 2])
axA.set_yticks([2, 4, 6])
axA.set_xticks([-1.5, -0.5, 0.5, 1.5], minor=True)
axA.set_yticks([1, 3, 5, 7], minor=True)
axA.grid(True, which="major", color="#EBEBEB", lw=1.4, zorder=0)
axA.grid(True, which="minor", color="#EBEBEB", lw=1.0, zorder=0)
axA.set_axisbelow(True)
axA.tick_params(which="minor", length=0)
axA.tick_params(which="major", length=5, width=1.1, color="#333333", labelsize=TICK_FS,
                labelcolor=tick_color, pad=4)
for sp in axA.spines.values():
    sp.set_color("#333333")
    sp.set_linewidth(1.3)
fig.text(fx(305.8), fy(467), "log2 acs/B73", ha="center", va="center", fontsize=16.3)
fig.text(fx(71), fy(227), "\u2212log10 p\u2212value", ha="center", va="center", rotation=90,
         fontsize=16.8)
fig.text(fx(10), fy(37), "A", ha="left", va="baseline", fontsize=23)

handlesA = [Line2D([], [], ls="none", marker="o", markersize=6.3, color=c, markeredgewidth=0)
            for c in ["#FF0000", "#0000FF", "#BEBEBE"]]
fig.legend(handlesA, ["AMP", "BMP", "MP"], loc="center left", bbox_to_anchor=(fx(110.8), fy(527)),
           ncol=3, frameon=False, fontsize=20, handlelength=0.95, handletextpad=0.8,
           columnspacing=1.48, borderpad=0, borderaxespad=0)

# ===================== Panel B =====================
axB = fig.add_axes(rect(161.7, 698.5, 416.7, 953.3))
other_x, other_y = [], []
for rows in (other_rows, other_rows_mid, other_rows_core, other_rows_core2, other_rows_core3):
    rx, ry = expand(rows)
    other_x += rx
    other_y += ry
other_x += other_x_extra
other_y += other_y_extra
groups_x = [other_x, cyto_x, phang_x, phapg_x, ne_x, pe_x, eth_x]
groups_y = [other_y, cyto_y, phang_y, phapg_y, ne_y, pe_y, eth_y]

axB.scatter(other_x, other_y, s=40, facecolors="none", edgecolors="black", linewidths=1.15, zorder=2)
axB.axvline(0, color="#9A9A9A", lw=1.5, ls=(0, (4.8, 3.0)), zorder=3)
axB.axhline(0, color="#9A9A9A", lw=1.5, ls=(0, (4.8, 3.0)), zorder=3)
for i in range(1, 7):
    axB.scatter(groups_x[i], groups_y[i], s=44, c=group_colors[i], linewidths=0, zorder=4 + i)
axB.set_xlim(-0.75, 0.75)
axB.set_ylim(-1, 1)
axB.set_xticks([-0.4, 0.0, 0.4])
axB.set_yticks([-1.0, -0.5, 0.0, 0.5, 1.0])
fmt1 = FuncFormatter(lambda v, p: ("%.1f" % v).replace("-", "\u2212") if abs(v) > 1e-9 else "0.0")
axB.xaxis.set_major_formatter(fmt1)
axB.yaxis.set_major_formatter(fmt1)
axB.spines["top"].set_visible(False)
axB.spines["right"].set_visible(False)
axB.spines["left"].set_linewidth(1.6)
axB.spines["bottom"].set_linewidth(1.6)
axB.tick_params(length=5, width=1.1, color="black", labelsize=TICK_FS, labelcolor=tick_color, pad=4)
fig.text(fx(288), fy(1003), "log2 A682xB73/MP", ha="center", va="center", fontsize=20)
fig.text(fx(74), fy(826), "log2 acs/B73", ha="center", va="center", rotation=90, fontsize=20.5)
fig.text(fx(34), fy(628), "B", ha="left", va="baseline", fontsize=23)

# marginal densities (each curve scaled to its peak height)
gx = np.linspace(-0.75, 0.75, 800)
gy = np.linspace(-1.0, 1.0, 800)
axT = fig.add_axes(rect(161.7, 626, 416.7, 698.5))
axR = fig.add_axes(rect(416.7, 698.5, 489, 953.3))
axT.axvline(0, color="#9A9A9A", lw=1.5, ls=(0, (4.8, 3.0)), zorder=1)
axR.axhline(0, color="#9A9A9A", lw=1.5, ls=(0, (4.8, 3.0)), zorder=1)
for i in range(7):
    dx = kde(groups_x[i], gx, marg_top_bw[i])
    dy = kde(groups_y[i], gy, marg_right_bw[i])
    axT.plot(gx, dx / dx.max() * marg_top_peak[i], color=group_colors[i], lw=1.5, clip_on=False,
             zorder=2 + i)
    axR.plot(dy / dy.max() * marg_right_peak[i], gy, color=group_colors[i], lw=1.5, clip_on=False,
             zorder=2 + i)
axT.set_xlim(-0.75, 0.75)
axT.set_ylim(0, 72.5)
axR.set_ylim(-1, 1)
axR.set_xlim(0, 72.3)
axT.axis("off")
axR.axis("off")

handlesB = []
for i, c in enumerate(group_colors):
    if i == 0:
        handlesB.append(Line2D([], [], ls="none", marker="o", markersize=6, markerfacecolor="none",
                               markeredgecolor="black", markeredgewidth=1.1))
    else:
        handlesB.append(Line2D([], [], ls="none", marker="o", markersize=6.3, color=c,
                               markeredgewidth=0))
fig.legend(handlesB, group_names, loc="upper left", bbox_to_anchor=(fx(-13.2), fy(1085)), ncol=2,
           frameon=False, fontsize=19, handlelength=1.0, handletextpad=0.83, columnspacing=1.0,
           labelspacing=0.86, borderpad=0, borderaxespad=0)

fig.savefig("out.png", dpi=100)
